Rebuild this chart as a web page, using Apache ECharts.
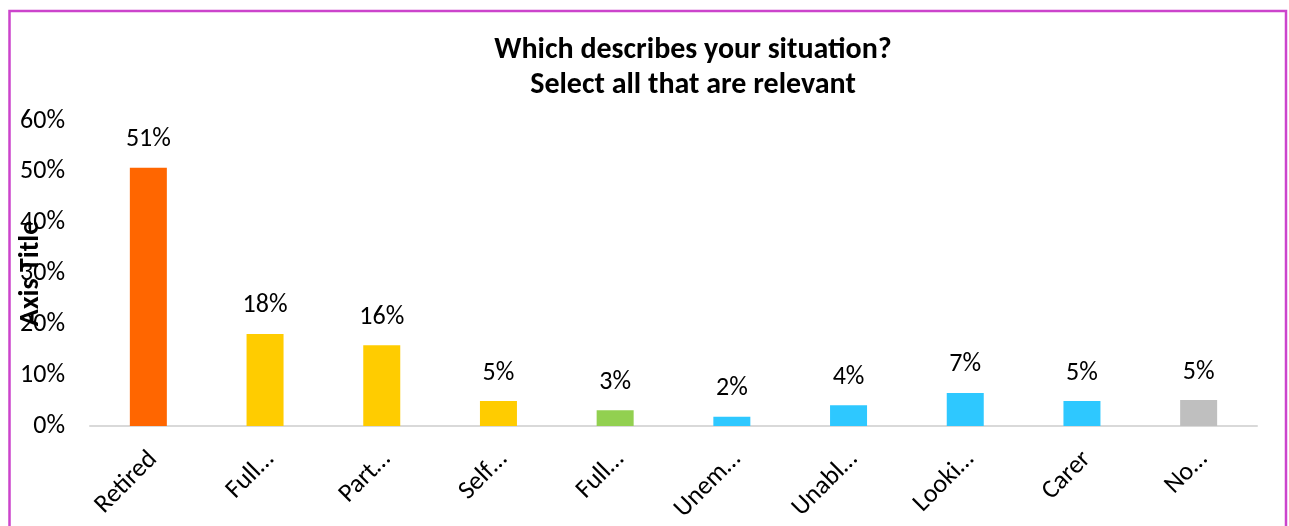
<!DOCTYPE html>
<html>
<head>
<meta charset="utf-8">
<script src="https://cdn.jsdelivr.net/npm/echarts@6/dist/echarts.min.js"></script>
<style>
  html, body { margin: 0; padding: 0; background: #fff; }
  #main { width: 1289px; height: 526px; }
</style>
</head>
<body>
<div id="main"></div>
<script>
// 数据
var categories = ['Retired', 'Full…', 'Part…', 'Self…', 'Full…', 'Unem…', 'Unabl…', 'Looki…', 'Carer', 'No…'];
var values = [0.508, 0.181, 0.159, 0.049, 0.031, 0.018, 0.041, 0.065, 0.049, 0.051];
var barColors = ['#ff6600', '#ffcc00', '#ffcc00', '#ffcc00', '#92d050', '#2ec8ff', '#2ec8ff', '#2ec8ff', '#2ec8ff', '#bfbfbf'];
var yTicks = [0, 0.1, 0.2, 0.3, 0.4, 0.5, 0.6];

var font = 'Carlito, Calibri, Lato, "Liberation Sans", sans-serif';

var myChart = echarts.init(document.getElementById('main'));
var option = {
    animation: false,
    title: {
        text: 'Which describes your situation?\nSelect all that are relevant',
        left: 688,
        top: 28,
        textAlign: 'center',
        textStyle: {
            fontFamily: font,
            fontWeight: 'bold',
            fontSize: 30,
            lineHeight: 35,
            color: '#000'
        }
    },
    //外框
    graphic: [{
        type: 'rect',
        shape: {x: 9.5, y: 11, width: 1276.5, height: 540},
        style: {fill: 'none', stroke: '#cc44cc', lineWidth: 2.5},
        silent: true
    }],
    grid: {left: 90, right: 32, top: 121, bottom: 100, outerBoundsMode: 'none', containLabel: false},
    xAxis: {
        type: 'category',
        data: categories,
        axisTick: {show: false},
        axisLine: {lineStyle: {color: '#d9d9d9', width: 2}},
        axisLabel: {
            rotate: 45,
            margin: 16,
            verticalAlign: 'top',
            padding: [0, 6, 0, 0],
            color: '#000',
            fontFamily: font,
            fontSize: 26
        }
    },
    yAxis: {
        type: 'value',
        min: yTicks[0],
        max: yTicks[yTicks.length - 1],
        interval: 0.1,
        name: 'Axis Title',
        nameLocation: 'middle',
        nameGap: 45,
        nameMoveOverlap: false,
        nameTextStyle: {
            fontFamily: font,
            fontWeight: 'bold',
            fontSize: 28,
            color: '#000'
        },
        splitLine: {show: false},
        axisLine: {show: false},
        axisTick: {show: false},
        axisLabel: {
            margin: 25,
            color: '#000',
            fontFamily: font,
            fontSize: 26,
            formatter: function (v) { return Math.round(v * 100) + '%'; }
        }
    },
    series: [{
        type: 'bar',
        barWidth: 37,
        data: values.map(function (v, i) {
            return {value: v, itemStyle: {color: barColors[i]}};
        }),
        label: {
            show: true,
            position: 'top',
            distance: 15,
            color: '#000',
            fontFamily: font,
            fontSize: 26,
            formatter: function (p) { return Math.round(p.value * 100) + '%'; }
        }
    }]
};
myChart.setOption(option);
</script>
</body>
</html>
